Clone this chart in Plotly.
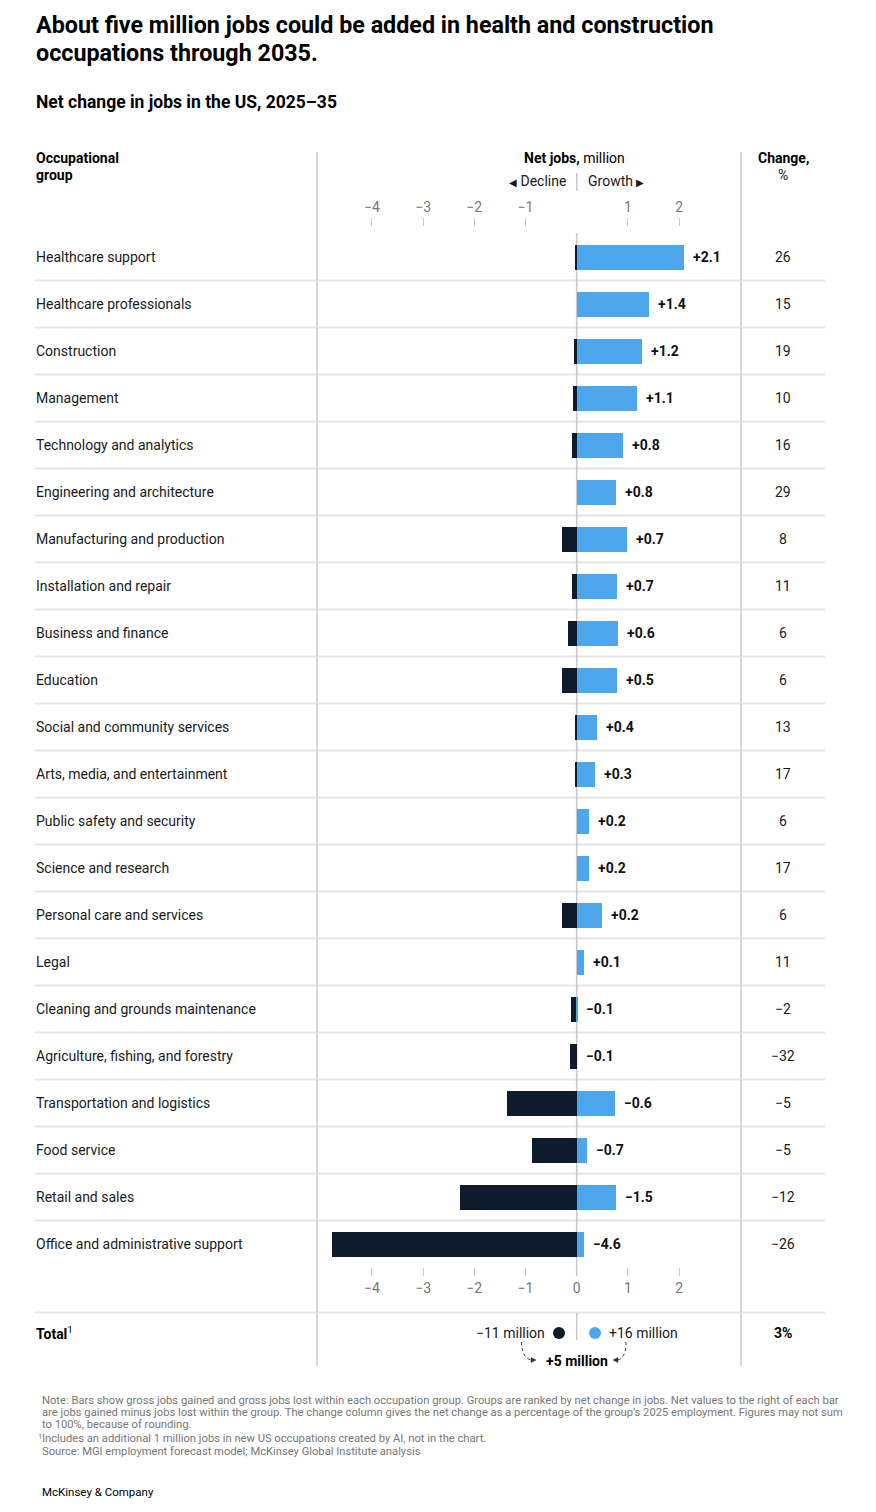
import plotly.graph_objects as go

W, H = 876, 1512
FONT = "Roboto, Liberation Sans, Arial, sans-serif"

categories = [
    "Healthcare support", "Healthcare professionals", "Construction", "Management",
    "Technology and analytics", "Engineering and architecture", "Manufacturing and production",
    "Installation and repair", "Business and finance", "Education",
    "Social and community services", "Arts, media, and entertainment",
    "Public safety and security", "Science and research", "Personal care and services",
    "Legal", "Cleaning and grounds maintenance", "Agriculture, fishing, and forestry",
    "Transportation and logistics", "Food service", "Retail and sales",
    "Office and administrative support",
]
jobs_gained = [2.10, 1.42, 1.28, 1.18, 0.91, 0.77, 0.98, 0.79, 0.80, 0.79, 0.39, 0.35,
               0.24, 0.24, 0.50, 0.14, 0.01, 0.0, 0.74, 0.21, 0.76, 0.15]
jobs_lost = [0.03, 0.0, 0.05, 0.07, 0.09, 0.0, 0.29, 0.10, 0.17, 0.29, 0.03, 0.03,
             0.0, 0.0, 0.28, 0.0, 0.11, 0.14, 1.36, 0.88, 2.28, 4.77]
net_labels = ["+2.1", "+1.4", "+1.2", "+1.1", "+0.8", "+0.8", "+0.7", "+0.7", "+0.6", "+0.5",
              "+0.4", "+0.3", "+0.2", "+0.2", "+0.2", "+0.1", "\u22120.1", "\u22120.1",
              "\u22120.6", "\u22120.7", "\u22121.5", "\u22124.6"]
change_pct = ["26", "15", "19", "10", "16", "29", "8", "11", "6", "6", "13", "17", "6", "17",
              "6", "11", "\u22122", "\u221232", "\u22125", "\u22125", "\u221212", "\u221226"]
tick_values = [-4, -3, -2, -1, 0, 1, 2]
tick_labels = ["\u22124", "\u22123", "\u22122", "\u22121", "0", "1", "2"]
total_lost_label = "\u221211 million"
total_gained_label = "+16 million"
total_net_label = "+5 million"
total_change_label = "3%"

# page offset (browser body margin)
OFF = 8

def px(x):
    return (x - OFF) / W

def py(y):
    return 1 - (y - OFF) / H

ZERO_PX = 576.7
UNIT_PX = 51.2
X_L, X_R = 317, 741
xrange_ = [(X_L - ZERO_PX) / UNIT_PX, (X_R - ZERO_PX) / UNIT_PX]
ROW_TOP, ROW_H = 233.5, 47
n = len(categories)
ROW_BOT = ROW_TOP + n * ROW_H
LX = 33.5  # left text anchor (compensates glyph side bearing)

rows = list(range(n))
DARK = "#0e1b2c"
BLUE = "#4ea6ec"
GRID = "#e6e6e6"
TEXT = "#1a1a1a"

fig = go.Figure()
fig.add_trace(go.Bar(
    y=rows, x=[-v for v in jobs_lost], base=0, orientation="h",
    marker=dict(color=DARK, line=dict(width=0)), width=0.525,
    hoverinfo="skip", showlegend=False,
))
fig.add_trace(go.Bar(
    y=rows, x=jobs_gained, base=0, orientation="h",
    marker=dict(color=BLUE, line=dict(width=0)), width=0.525,
    hoverinfo="skip", showlegend=False,
))
# invisible trace so the top axis is drawn
fig.add_trace(go.Scatter(x=[0], y=[0], xaxis="x2", yaxis="y", mode="markers",
                         marker=dict(opacity=0), hoverinfo="skip", showlegend=False))

shapes = []
ann = []

# row separators
for i in range(n - 1):
    shapes.append(dict(type="line", xref="paper", yref="y", x0=px(35), x1=px(825),
                       y0=i + 0.5, y1=i + 0.5, line=dict(color=GRID, width=2), layer="below"))
shapes.append(dict(type="line", xref="paper", yref="paper", x0=px(35), x1=px(825),
                   y0=py(1312.5), y1=py(1312.5), line=dict(color=GRID, width=2), layer="below"))
# vertical dividers
for xv in (317, 741):
    shapes.append(dict(type="line", xref="paper", yref="paper", x0=px(xv), x1=px(xv),
                       y0=py(152), y1=py(1366), line=dict(color="#d9d9d9", width=2), layer="below"))
# zero lines
for (a, b) in ((233, 1276), (1313, 1340), (173, 191)):
    shapes.append(dict(type="line", xref="x", yref="paper", x0=0, x1=0,
                       y0=py(a), y1=py(b), line=dict(color="#c8c8c8", width=1.5), layer="below"))

# row labels, net labels, change values
for i in range(n):
    ann.append(dict(xref="paper", yref="y", x=px(LX), y=i, text=categories[i],
                    xanchor="left", yanchor="middle", showarrow=False,
                    font=dict(size=14, color=TEXT)))
    ann.append(dict(xref="x", yref="y", x=jobs_gained[i], y=i, text="<b>" + net_labels[i] + "</b>",
                    xanchor="left", yanchor="middle", xshift=7, showarrow=False,
                    font=dict(size=14, color="#111")))
    ann.append(dict(xref="paper", yref="y", x=px(783), y=i, text=change_pct[i],
                    xanchor="center", yanchor="middle", showarrow=False,
                    font=dict(size=14, color=TEXT)))

def text(x, y, t, size=14, anchor="left", color=TEXT):
    ann.append(dict(xref="paper", yref="paper", x=px(x), y=py(y), text=t, xanchor=anchor,
                    yanchor="middle", showarrow=False, align=anchor,
                    font=dict(size=size, color=color)))

# title & subtitle
text(LX, 25, "<b>About five million jobs could be added in health and construction</b>", size=23.3, color="#000")
text(LX, 53, "<b>occupations through 2035.</b>", size=23.3, color="#000")
text(LX, 102, "<b>Net change in jobs in the US, 2025\u201335</b>", size=17.5, color="#000")

# headers
text(LX, 158, "<b>Occupational</b>", size=14, color="#000")
text(LX, 175, "<b>group</b>", size=14, color="#000")
text(574, 158, "<b>Net jobs,</b> million", size=14, anchor="center", color="#000")
text(568, 181, "<span style='font-size:10px'>\u25c0</span> Decline", size=14, anchor="right")
text(586, 181, "Growth <span style='font-size:10px'>\u25b6</span>", size=14, anchor="left")
text(783, 158, "<b>Change,</b>", size=14, anchor="center", color="#000")
text(783, 175, "%", size=14, anchor="center")

# total row
text(LX, 1333, "<b>Total</b><sup>1</sup>", size=14, color="#000")
text(547, 1333, total_lost_label, size=14, anchor="right")
text(607, 1333, total_gained_label, size=14, anchor="left")
text(576.7, 1361, "<b>" + total_net_label + "</b>", size=14, anchor="center", color="#000")
text(783, 1333, "<b>" + total_change_label + "</b>", size=14, anchor="center", color="#000")
for cx, col in ((559, DARK), (595, BLUE)):
    shapes.append(dict(type="circle", xref="paper", yref="paper",
                       x0=px(cx - 6), x1=px(cx + 6), y0=py(1333 + 6), y1=py(1333 - 6),
                       fillcolor=col, line=dict(width=0)))

# curved dotted arrows
lp = "M {},{} Q {},{} {},{}".format(px(521.5), py(1342), px(522), py(1358), px(531), py(1360))
rp = "M {},{} Q {},{} {},{}".format(px(626), py(1342), px(626), py(1358), px(618), py(1360))
for p in (lp, rp):
    shapes.append(dict(type="path", xref="paper", yref="paper", path=p,
                       line=dict(color="#333", width=1, dash="dot")))
la = "M {},{} L {},{} L {},{} Z".format(px(531), py(1357.5), px(536), py(1360), px(531), py(1362.5))
ra = "M {},{} L {},{} L {},{} Z".format(px(618), py(1357.5), px(613), py(1360), px(618), py(1362.5))
for p in (la, ra):
    shapes.append(dict(type="path", xref="paper", yref="paper", path=p,
                       fillcolor="#333", line=dict(color="#333", width=0.5)))

# footnotes
NOTE_C = "#777"
FN = 11.2
text(40, 1400, "Note: Bars show gross jobs gained and gross jobs lost within each occupation group. Groups are ranked by net change in jobs. Net values to the right of each bar", size=FN, color=NOTE_C)
text(40, 1412, "are jobs gained minus jobs lost within the group. The change column gives the net change as a percentage of the group\u2019s 2025 employment. Figures may not sum", size=FN, color=NOTE_C)
text(40, 1424, "to 100%, because of rounding.", size=FN, color=NOTE_C)
text(35.5, 1436, "<sup>1</sup>", size=FN, color=NOTE_C)
text(40, 1438, "Includes an additional 1 million jobs in new US occupations created by AI, not in the chart.", size=FN, color=NOTE_C)
text(40, 1451, "Source: MGI employment forecast model; McKinsey Global Institute analysis", size=FN, color=NOTE_C)
text(40, 1492, "McKinsey & Company", size=11.5, color="#000")

fig.update_layout(
    width=W, height=H, margin=dict(l=0, r=0, t=0, b=0),
    paper_bgcolor="white", plot_bgcolor="rgba(0,0,0,0)",
    barmode="overlay", bargap=0,
    font=dict(family=FONT, color=TEXT),
    shapes=shapes, annotations=ann,
    xaxis=dict(domain=[px(X_L), px(X_R)], range=xrange_, anchor="free", position=py(1267),
               showgrid=False, zeroline=False, showline=False,
               tickvals=tick_values, ticktext=tick_labels, ticks="outside", ticklen=8,
               tickcolor="#c8c8c8", tickwidth=1, tickfont=dict(size=14, color="#777"), fixedrange=True),
    xaxis2=dict(overlaying="x", matches="x", range=xrange_, side="top", anchor="free", position=py(226),
                showgrid=False, zeroline=False, showline=False,
                tickvals=[v for v in tick_values if v != 0],
                ticktext=[t for v, t in zip(tick_values, tick_labels) if v != 0],
                ticks="outside", ticklen=8, tickcolor="#c8c8c8", tickwidth=1,
                tickfont=dict(size=14, color="#777"), fixedrange=True),
    yaxis=dict(domain=[py(ROW_BOT), py(ROW_TOP)], range=[n - 0.5, -0.5], visible=False, fixedrange=True),
)

fig.write_html("out.html")
